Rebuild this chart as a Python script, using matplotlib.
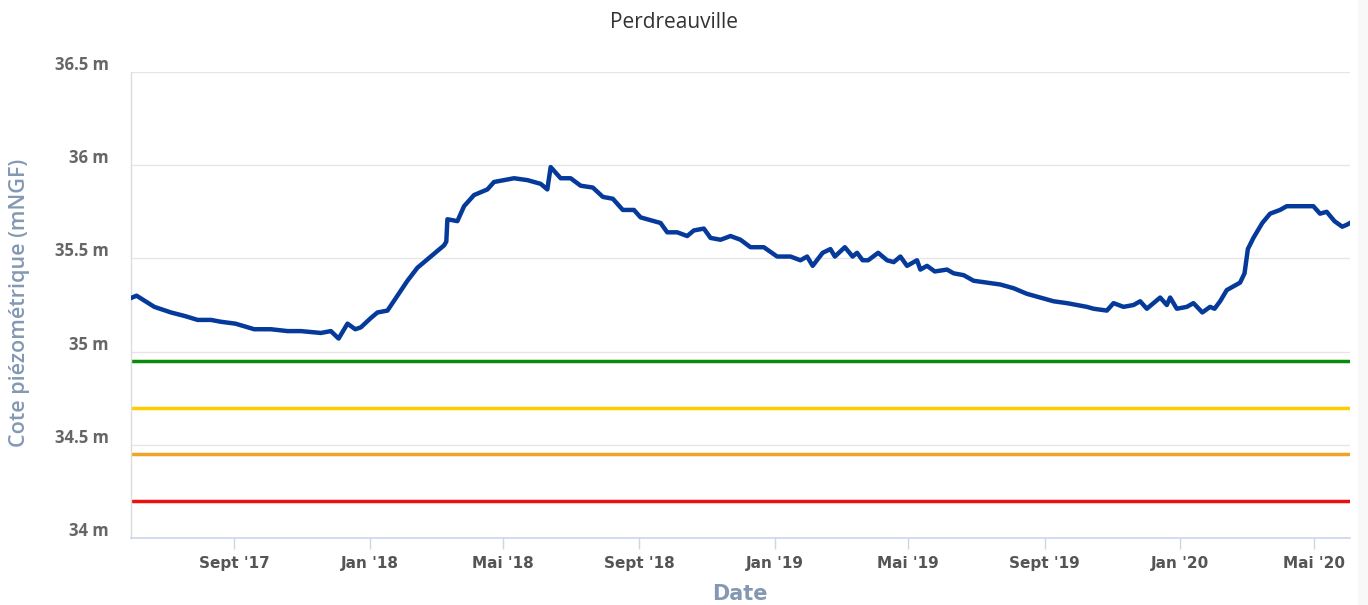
import matplotlib
matplotlib.use("Agg")
import matplotlib.pyplot as plt
from matplotlib.transforms import ScaledTranslation
from matplotlib.patches import Rectangle
import pandas as pd

title = "Perdreauville"
y_title = "Cote piézométrique (mNGF)"
x_title = "Date"

dates = [
    "2017-06-01", "2017-06-05", "2017-06-21", "2017-07-06", "2017-07-19", "2017-07-30",
    "2017-08-11", "2017-08-20", "2017-09-02", "2017-09-19", "2017-10-04", "2017-10-19",
    "2017-10-31", "2017-11-18", "2017-11-27", "2017-12-04", "2017-12-12", "2017-12-19",
    "2017-12-24", "2018-01-02", "2018-01-08", "2018-01-17", "2018-01-26", "2018-02-04",
    "2018-02-13", "2018-02-25", "2018-03-09", "2018-03-11", "2018-03-12", "2018-03-21",
    "2018-03-27", "2018-04-05", "2018-04-17", "2018-04-23", "2018-05-11", "2018-05-23",
    "2018-06-04", "2018-06-10", "2018-06-13", "2018-06-22", "2018-07-01", "2018-07-10",
    "2018-07-21", "2018-07-30", "2018-08-08", "2018-08-17", "2018-08-27", "2018-09-02",
    "2018-09-14", "2018-09-20", "2018-09-26", "2018-10-05", "2018-10-14", "2018-10-20",
    "2018-10-29", "2018-11-04", "2018-11-13", "2018-11-22", "2018-12-01", "2018-12-10",
    "2018-12-22", "2019-01-03", "2019-01-15", "2019-01-24", "2019-01-30", "2019-02-04",
    "2019-02-13", "2019-02-20", "2019-02-24", "2019-03-05", "2019-03-12", "2019-03-16",
    "2019-03-21", "2019-03-26", "2019-04-04", "2019-04-12", "2019-04-18", "2019-04-24",
    "2019-04-30", "2019-05-09", "2019-05-12", "2019-05-18", "2019-05-25", "2019-06-05",
    "2019-06-11", "2019-06-20", "2019-06-29", "2019-07-11", "2019-07-23", "2019-08-04",
    "2019-08-16", "2019-08-28", "2019-09-09", "2019-09-21", "2019-09-30", "2019-10-09",
    "2019-10-15", "2019-10-27", "2019-11-02", "2019-11-11", "2019-11-20", "2019-11-26",
    "2019-12-02", "2019-12-14", "2019-12-20", "2019-12-23", "2019-12-29", "2020-01-07",
    "2020-01-13", "2020-01-21", "2020-01-28", "2020-02-01", "2020-02-06", "2020-02-12",
    "2020-02-18", "2020-02-24", "2020-02-28", "2020-03-02", "2020-03-07", "2020-03-15",
    "2020-03-22", "2020-03-31", "2020-04-06", "2020-04-18", "2020-04-30", "2020-05-06",
    "2020-05-12", "2020-05-19", "2020-05-26", "2020-05-30", "2020-06-02",
]
levels = [
    35.29, 35.30, 35.24, 35.21, 35.19, 35.17,
    35.17, 35.16, 35.15, 35.12, 35.12, 35.11,
    35.11, 35.10, 35.11, 35.07, 35.15, 35.12,
    35.13, 35.18, 35.21, 35.22, 35.30, 35.38,
    35.45, 35.51, 35.57, 35.59, 35.71, 35.70,
    35.78, 35.84, 35.87, 35.91, 35.93, 35.92,
    35.90, 35.87, 35.99, 35.93, 35.93, 35.89,
    35.88, 35.83, 35.82, 35.76, 35.76, 35.72,
    35.70, 35.69, 35.64, 35.64, 35.62, 35.65,
    35.66, 35.61, 35.60, 35.62, 35.60, 35.56,
    35.56, 35.51, 35.51, 35.49, 35.51, 35.46,
    35.53, 35.55, 35.51, 35.56, 35.51, 35.53,
    35.49, 35.49, 35.53, 35.49, 35.48, 35.51,
    35.46, 35.49, 35.44, 35.46, 35.43, 35.44,
    35.42, 35.41, 35.38, 35.37, 35.36, 35.34,
    35.31, 35.29, 35.27, 35.26, 35.25, 35.24,
    35.23, 35.22, 35.26, 35.24, 35.25, 35.27,
    35.23, 35.29, 35.25, 35.29, 35.23, 35.24,
    35.26, 35.21, 35.24, 35.23, 35.27, 35.33,
    35.35, 35.37, 35.42, 35.55, 35.61, 35.69,
    35.74, 35.76, 35.78, 35.78, 35.78, 35.74,
    35.75, 35.70, 35.67, 35.68, 35.69,
]

threshold_values = [34.95, 34.70, 34.45, 34.20]
threshold_colors = ["#0a8a0a", "#ffcc00", "#f0a328", "#e81010"]

y_ticks = [34.0, 34.5, 35.0, 35.5, 36.0, 36.5]
y_tick_labels = ["34 m", "34.5 m", "35 m", "35.5 m", "36 m", "36.5 m"]
x_ticks = ["2017-09-01", "2018-01-01", "2018-05-01", "2018-09-01", "2019-01-01",
           "2019-05-01", "2019-09-01", "2020-01-01", "2020-05-01"]
x_tick_labels = ["Sept '17", "Jan '18", "Mai '18", "Sept '18", "Jan '19",
                 "Mai '19", "Sept '19", "Jan '20", "Mai '20"]
x_range = ["2017-05-31", "2020-06-02"]

W, H = 1368, 605
fig = plt.figure(figsize=(W / 100, H / 100), dpi=100)
fig.patch.set_facecolor("white")
ax = fig.add_axes([131 / W, 1 - 538 / H, (1350 - 131) / W, (538 - 72) / H])

t = pd.to_datetime(dates)
for v, c in zip(threshold_values, threshold_colors):
    ax.axhline(v, color=c, lw=2.5, zorder=2)
ax.plot(t, levels, color="#063a9a", lw=3.2, zorder=3, solid_joinstyle="round")

ax.set_ylim(34.0, 36.5)
ax.set_xlim(pd.to_datetime(x_range[0]), pd.to_datetime(x_range[1]))
ax.set_yticks(y_ticks)
ax.set_yticklabels(y_tick_labels)
ax.set_xticks(pd.to_datetime(x_ticks))
ax.set_xticklabels(x_tick_labels)

ax.grid(axis="y", color="#e6e6e6", lw=1.0, zorder=0)
ax.set_axisbelow(True)
for s in ["top", "right"]:
    ax.spines[s].set_visible(False)
ax.spines["left"].set_color("#dcdcdc")
ax.spines["bottom"].set_color("#ccd6eb")
ax.spines["left"].set_linewidth(1.0)
ax.spines["bottom"].set_linewidth(1.2)

ax.tick_params(axis="y", length=0, pad=16, labelsize=12, labelcolor="#666666")
ax.tick_params(axis="x", length=8, width=1, color="#ccd6eb", pad=5,
               labelsize=11, labelcolor="#555555")
for lab in ax.get_yticklabels():
    lab.set_fontweight("bold")
    lab.set_family(["Open Sans", "DejaVu Sans"])
    lab.set_transform(lab.get_transform() + ScaledTranslation(0, 9 / 100, fig.dpi_scale_trans))
for lab in ax.get_xticklabels():
    lab.set_fontweight("bold")
    lab.set_family(["Liberation Sans Narrow", "DejaVu Sans"])

fig.text(20 / W, 1 - 303 / H, y_title, rotation=90, ha="center", va="center",
         fontsize=15.5, color="#8399b3", fontweight="semibold", family=["Open Sans", "DejaVu Sans"])
fig.text(740 / W, 1 - 594 / H, x_title, ha="center", va="center",
         fontsize=15, color="#8399b3", fontweight="semibold", family=["Liberation Sans Narrow", "DejaVu Sans"])
fig.text(674 / W, 1 - 22 / H, title, ha="center", va="center",
         fontsize=15, color="#333333", family=["Open Sans", "DejaVu Sans"])

fig.patches.append(Rectangle((1358 / W, 0), 10 / W, 1, transform=fig.transFigure,
                             facecolor="#f8f8f8", edgecolor="none", zorder=0))

fig.savefig("out.png", dpi=100)
